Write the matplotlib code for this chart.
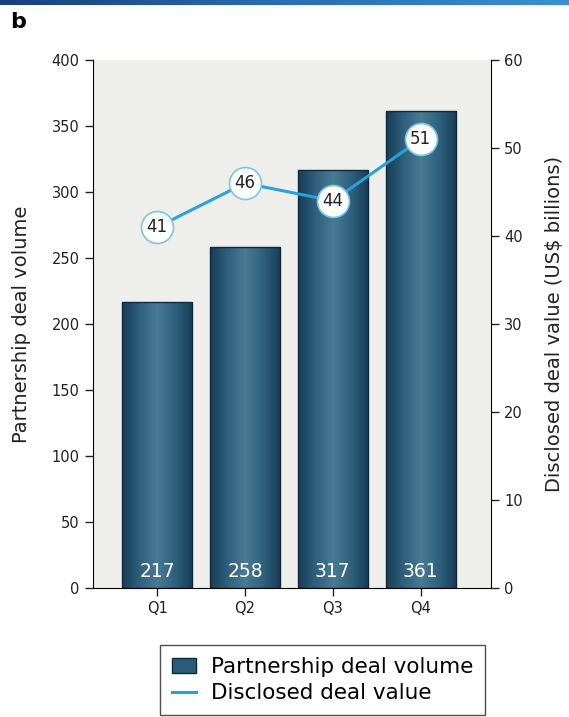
import numpy as np
import matplotlib
matplotlib.use("Agg")
import matplotlib.pyplot as plt
from matplotlib.patches import Patch
from matplotlib.lines import Line2D
from matplotlib.colors import LinearSegmentedColormap

quarters = ["Q1", "Q2", "Q3", "Q4"]
deal_volume = [217, 258, 317, 361]
deal_value = [41, 46, 44, 51]

plt.rcParams['font.family'] = ['DejaVu Sans']

fig = plt.figure(figsize=(5.69, 7.17), dpi=100)
ax = fig.add_axes([93 / 569, 1 - 588 / 717, (491 - 93) / 569, (588 - 60) / 717])
ax.set_facecolor("#eeeeea")

x = np.arange(len(quarters))
bar_cmap = LinearSegmentedColormap.from_list("bar", ["#163d57", "#2f607c", "#4a7b95", "#2f607c", "#163d57"])
bars = ax.bar(x, deal_volume, width=0.8, color="none", edgecolor="#10283a", linewidth=1.0, zorder=2)
grad = np.linspace(0, 1, 256).reshape(1, -1)
for b in bars:
    im = ax.imshow(grad, cmap=bar_cmap, aspect="auto", zorder=1.9,
                   extent=[b.get_x(), b.get_x() + b.get_width(), 0, b.get_height()])
    im.set_clip_path(b)
for xi, v in zip(x, deal_volume):
    ax.text(xi, 5, str(v), ha="center", va="bottom", color="white", fontsize=13.5, zorder=3)

ax.set_xlim(-0.73, 3.80)
ax.set_ylim(0, 400)
ax.set_yticks(range(0, 401, 50))
ax.set_xticks(x)
ax.set_xticklabels(quarters)
ax.tick_params(axis="both", direction="out", length=6, width=1, labelsize=10.5, colors="#222222")
ax.set_ylabel("Partnership deal volume", fontsize=14, color="#222222", labelpad=15)
ax.spines["top"].set_visible(False)
ax.spines["right"].set_visible(False)

ax2 = ax.twinx()
ax2.set_ylim(0, 60)
ax2.set_yticks(range(0, 61, 10))
ax2.plot(x, deal_value, color="#2aa1da", linewidth=2.2, marker="o", markersize=23,
         markerfacecolor="white", markeredgecolor="#7cc4e8", markeredgewidth=1.2, zorder=4)
for xi, v in zip(x, deal_value):
    ax2.text(xi, v, str(v), ha="center", va="center", fontsize=12, color="#222222", zorder=5)
ax2.tick_params(axis="y", direction="out", length=6, width=1, labelsize=10.5, colors="#222222")
ax2.set_ylabel("Disclosed deal value (US$ billions)", fontsize=14, color="#222222", labelpad=16)
ax2.spines["top"].set_visible(False)
ax2.spines["left"].set_visible(False)
ax2.spines["bottom"].set_visible(False)

# top rule
top = fig.add_axes([0, 1 - 5 / 717, 1, 5 / 717])
top.imshow(np.linspace(0, 1, 256).reshape(1, -1), aspect="auto",
           cmap=LinearSegmentedColormap.from_list("top", ["#16407a", "#2a6db3", "#3b8fd0"]))
top.axis("off")

fig.text(10 / 569, 1 - 22 / 717, "b", fontsize=16, fontweight="bold", va="center", ha="left")

handles = [Patch(facecolor="#2a5b77", edgecolor="#10283a"),
           Line2D([0], [0], color="#2aa1da", linewidth=2.2)]
leg = fig.legend(handles, ["Partnership deal volume", "Disclosed deal value"],
                 loc="upper left", bbox_to_anchor=(160 / 569, 1 - 645 / 717),
                 fontsize=15.5, frameon=True, fancybox=False, handlelength=1.1,
                 handletextpad=0.7, borderpad=0.55, labelspacing=0.3, borderaxespad=0)
leg.get_frame().set_edgecolor("#222222")
leg.get_frame().set_linewidth(1.0)

fig.savefig("out.png", dpi=100)
